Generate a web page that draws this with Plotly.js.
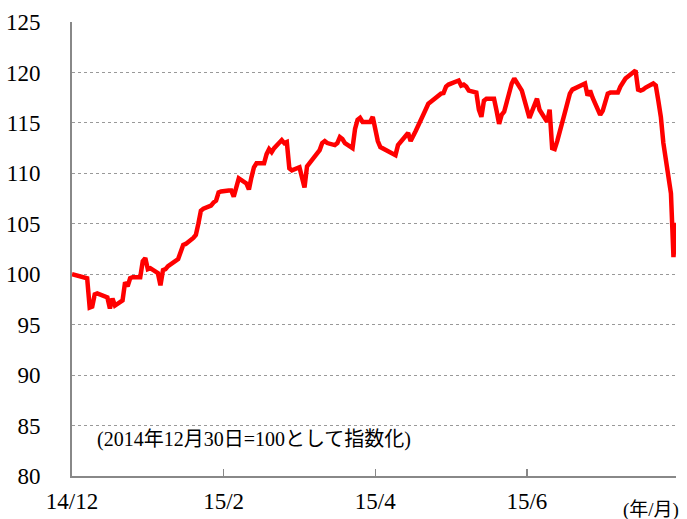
<!DOCTYPE html>
<html>
<head>
<meta charset="utf-8">
<script src="https://cdn.plot.ly/plotly-3.0.1.min.js"></script>
<style>
html,body{margin:0;padding:0;background:#fff;}
#chart{width:687px;height:519px;}
</style>
</head>
<body>
<div id="chart"></div>
<script>
// Trading dates (Dec 30, 2014 = 100)
var dates = [
'2014-12-30',
'2015-01-05','2015-01-06','2015-01-07','2015-01-08','2015-01-09',
'2015-01-13','2015-01-14','2015-01-15','2015-01-16',
'2015-01-19','2015-01-20','2015-01-21','2015-01-22','2015-01-23',
'2015-01-26','2015-01-27','2015-01-28','2015-01-29','2015-01-30',
'2015-02-02','2015-02-03','2015-02-04','2015-02-05','2015-02-06',
'2015-02-09','2015-02-10','2015-02-12','2015-02-13',
'2015-02-16','2015-02-17','2015-02-18','2015-02-19','2015-02-20',
'2015-02-23','2015-02-24','2015-02-25','2015-02-26','2015-02-27',
'2015-03-02','2015-03-03','2015-03-04','2015-03-05','2015-03-06',
'2015-03-09','2015-03-10','2015-03-11','2015-03-12','2015-03-13',
'2015-03-16','2015-03-17','2015-03-18','2015-03-19','2015-03-20',
'2015-03-23','2015-03-24','2015-03-25','2015-03-26','2015-03-27',
'2015-03-30','2015-03-31','2015-04-01','2015-04-02','2015-04-03',
'2015-04-06','2015-04-07','2015-04-08','2015-04-09','2015-04-10',
'2015-04-13','2015-04-14','2015-04-15','2015-04-16','2015-04-17',
'2015-04-20','2015-04-21','2015-04-22','2015-04-23','2015-04-24',
'2015-04-27','2015-04-28','2015-04-30','2015-05-01',
'2015-05-07','2015-05-08',
'2015-05-11','2015-05-12','2015-05-13','2015-05-14','2015-05-15',
'2015-05-18','2015-05-19','2015-05-20','2015-05-21','2015-05-22',
'2015-05-25','2015-05-26','2015-05-27','2015-05-28','2015-05-29',
'2015-06-01','2015-06-02','2015-06-03','2015-06-04','2015-06-05',
'2015-06-08','2015-06-09','2015-06-10','2015-06-11','2015-06-12',
'2015-06-15','2015-06-16','2015-06-17','2015-06-18','2015-06-19',
'2015-06-22','2015-06-23','2015-06-24','2015-06-25','2015-06-26',
'2015-06-29','2015-06-30','2015-07-01','2015-07-02','2015-07-03',
'2015-07-06','2015-07-07','2015-07-08','2015-07-09','2015-07-10',
'2015-07-13','2015-07-14','2015-07-15','2015-07-16','2015-07-17',
'2015-07-21','2015-07-22','2015-07-23','2015-07-24',
'2015-07-27','2015-07-28','2015-07-29','2015-07-30','2015-07-31',
'2015-08-03','2015-08-04','2015-08-05','2015-08-06','2015-08-07',
'2015-08-10','2015-08-11','2015-08-12','2015-08-13','2015-08-14',
'2015-08-17','2015-08-18','2015-08-19','2015-08-20','2015-08-21',
'2015-08-24','2015-08-25','2015-08-26'
];
var indexValues = [
100.0,
99.6, 96.7, 96.8, 98.0, 98.1,
97.7, 96.6, 97.6, 96.9,
97.4, 99.2, 98.8, 99.6, 99.7,
99.7, 101.3, 101.6, 100.5, 100.6,
100.1, 98.9, 100.4, 100.5, 100.8,
101.3, 101.5, 102.9, 103.0,
103.6, 103.9, 105.0, 106.3, 106.5,
106.8, 107.1, 107.3, 108.1, 108.2,
108.3, 108.3, 107.7, 108.7, 109.5,
109.0, 108.4, 109.6, 110.6, 111.0,
111.0, 111.9, 112.4, 112.1, 112.5,
113.3, 113.0, 113.1, 110.5, 110.3,
110.6, 109.6, 108.6, 110.7, 111.0,
112.0, 112.3, 113.0, 113.2, 113.0,
112.8, 113.0, 113.6, 113.4, 113.0,
112.5, 114.4, 115.3, 115.5, 115.1,
115.1, 115.6, 113.2, 112.6,
111.8, 112.8,
113.7, 114.0, 113.2, 113.8, 114.2,
115.8, 116.4, 116.9, 117.1, 117.3,
117.9, 117.95, 118.6, 118.8, 118.9,
119.2, 118.7, 118.8, 118.6, 118.2,
118.0, 116.3, 115.6, 117.2, 117.4,
117.4, 116.2, 114.9, 115.8, 116.1,
118.9, 119.4, 119.0, 118.5, 118.2,
115.5, 116.1, 116.6, 117.4, 116.3,
115.1, 116.3, 112.5, 112.4, 113.2,
116.0, 117.0, 117.9, 118.3, 118.4,
118.9, 117.7, 118.2, 117.5,
115.8, 116.2, 117.0, 117.9, 118.0,
118.0, 118.6, 119.1, 119.4, 119.6,
120.2, 118.3, 118.2, 118.3, 118.5,
118.9, 118.7, 117.2, 115.6, 113.0,
108.0, 101.7, 105.1
];
var tickDates = ['2014-12-30','2015-02-28','2015-04-29','2015-06-28'];
var tickLabels = ['14/12','15/2','15/4','15/6'];
var yTicks = [80,85,90,95,100,105,110,115,120,125];
var noteText = '(2014年12月30日=100として指数化)';
var unitText = '(年/月)';

var serif = '"Liberation Serif", "Noto Sans CJK JP", serif';

var trace = {
  x: dates, y: indexValues, type: 'scatter', mode: 'lines',
  line: {color: '#FF0000', width: 4.5},
  hoverinfo: 'skip'
};

var layout = {
  width: 687, height: 519,
  margin: {l: 72, r: 11, t: 22, b: 43},
  paper_bgcolor: '#ffffff', plot_bgcolor: '#ffffff',
  showlegend: false,
  font: {family: serif, size: 23, color: '#000'},
  xaxis: {
    type: 'date',
    range: ['2014-12-30', '2015-08-26'],
    tickmode: 'array', tickvals: tickDates, ticktext: tickLabels,
    ticks: 'inside', ticklen: 7, tickwidth: 1.5, tickcolor: '#888',
    showline: true, linecolor: '#888', linewidth: 2,
    showgrid: false, zeroline: false,
    tickfont: {family: serif, size: 23, color: '#000'},
    ticklabelstandoff: 3
  },
  yaxis: {
    range: [80, 125],
    tickmode: 'array', tickvals: yTicks,
    ticks: '', showline: true, linecolor: '#888', linewidth: 2,
    showgrid: true, gridcolor: '#999', gridwidth: 1, griddash: 'dot',
    zeroline: false,
    tickfont: {family: serif, size: 23, color: '#000'},
    ticklabelstandoff: 25
  },
  annotations: [
    {xref: 'paper', yref: 'paper', x: 0.038, y: 0.081, xanchor: 'left', yanchor: 'middle',
     text: noteText, showarrow: false, font: {family: serif, size: 20, color: '#000'}},
    {xref: 'paper', yref: 'paper', x: 1.008, y: -0.075, xanchor: 'right', yanchor: 'middle',
     text: unitText, showarrow: false, font: {family: serif, size: 19, color: '#000'}}
  ]
};

Plotly.newPlot('chart', [trace], layout, {displayModeBar: false, staticPlot: true});
</script>
</body>
</html>
